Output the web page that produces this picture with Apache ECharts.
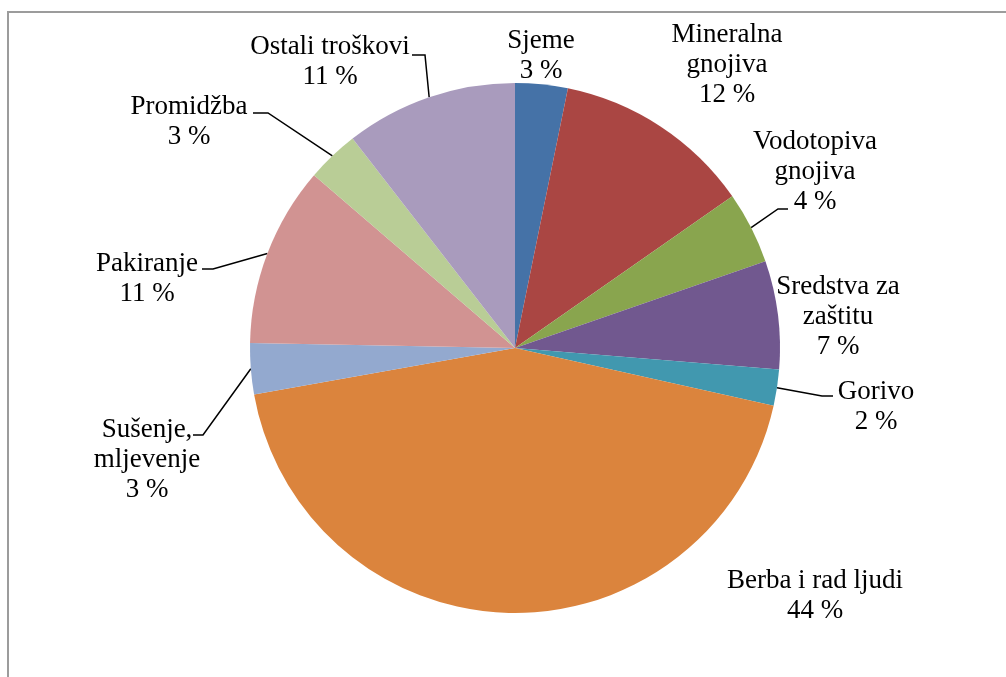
<!DOCTYPE html>
<html>
<head>
<meta charset="utf-8">
<script src="https://cdn.jsdelivr.net/npm/echarts@6/dist/echarts.min.js"></script>
<style>
html,body{margin:0;padding:0;background:#fff;}
#chart{width:1006px;height:677px;}
</style>
</head>
<body>
<div id="chart"></div>
<script>
// Categories and values (percent shares)
const categories = [
  'Sjeme',
  'Mineralna\ngnojiva',
  'Vodotopiva\ngnojiva',
  'Sredstva za\nzaštitu',
  'Gorivo',
  'Berba i rad ljudi',
  'Sušenje,\nmljevenje',
  'Pakiranje',
  'Promidžba',
  'Ostali troškovi'
];
const values = [3.2, 12.1, 4.4, 6.6, 2.2, 43.7, 3.1, 11.0, 3.2, 10.5];
const colors = ['#4572A7', '#AA4643', '#89A54E', '#71588F', '#4198AF', '#DB843D', '#93A9CF', '#D19392', '#B9CD96', '#A99BBD'];

// Label placement (layout, not data)
const labelPlacement = [
  {x: 541, y: 56},
  {x: 727, y: 65},
  {x: 815, y: 172, line: [[778, 209], [788, 209]]},
  {x: 838, y: 317},
  {x: 876, y: 407, line: [[822, 396], [833, 396]]},
  {x: 815, y: 596},
  {x: 147, y: 460, line: [[203, 435], [193, 435]]},
  {x: 147, y: 279, line: [[213, 269], [202, 269]]},
  {x: 189, y: 122, line: [[268, 113], [253, 113]]},
  {x: 330, y: 62, line: [[425, 55], [412, 55]]}
];

const chart = echarts.init(document.getElementById('chart'), null, {renderer: 'canvas'});
const data = categories.map((c, i) => ({
  name: c,
  value: values[i],
  itemStyle: {color: colors[i]},
  labelLine: {show: !!labelPlacement[i].line}
}));

chart.setOption({
  animation: false,
  backgroundColor: '#ffffff',
  graphic: [{
    type: 'rect',
    silent: true,
    shape: {x: 8, y: 12, width: 1200, height: 1000},
    style: {fill: 'none', stroke: '#9c9c9c', lineWidth: 2}
  }],
  series: [{
    type: 'pie',
    center: [515, 348],
    radius: 265,
    startAngle: 90,
    clockwise: true,
    avoidLabelOverlap: false,
    itemStyle: {borderWidth: 0},
    label: {
      show: true,
      position: 'outside',
      fontFamily: 'Liberation Serif, Times New Roman, serif',
      fontSize: 27,
      lineHeight: 30,
      color: '#000',
      formatter: p => p.name + '\n' + Math.round(p.percent) + ' %'
    },
    labelLine: {
      show: true,
      length: 20,
      length2: 10,
      lineStyle: {color: '#000', width: 1.5}
    },
    labelLayout: function (params) {
      const L = labelPlacement[params.dataIndex];
      const res = {x: L.x, y: L.y, align: 'center', verticalAlign: 'middle'};
      if (L.line && params.labelLinePoints) {
        res.labelLinePoints = [params.labelLinePoints[0], L.line[0], L.line[1]];
      }
      return res;
    },
    data: data
  }]
});
</script>
</body>
</html>
